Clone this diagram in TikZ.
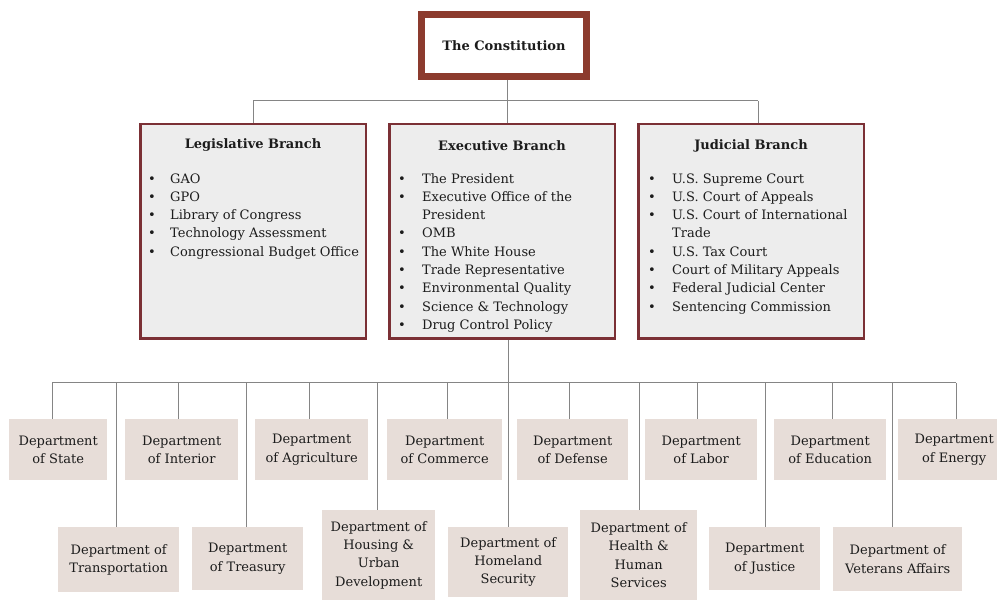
\documentclass[tikz,border=0pt]{standalone}
\usepackage{fontspec}
\setmainfont{DejaVu Serif}
\definecolor{maroonA}{HTML}{8C3B2E}
\definecolor{maroonB}{HTML}{7B3035}
\definecolor{branchfill}{HTML}{EDEDED}
\definecolor{deptfill}{HTML}{E7DDD8}
\definecolor{linec}{HTML}{858585}
\definecolor{txt}{HTML}{1C1C1C}
\tikzset{
  constbox/.style={draw=maroonA, line width=7pt, fill=white, minimum width=165pt, minimum height=62pt, inner sep=0pt, font=\bfseries\fontsize{13}{16}\selectfont},
  branchbox/.style={draw=maroonB, line width=2.5pt, fill=branchfill, inner sep=0pt, anchor=north west, minimum width=225.5pt, minimum height=214.5pt},
  btitle/.style={font=\bfseries\fontsize{13}{16}\selectfont, inner sep=0pt},
  blist/.style={anchor=north west, inner sep=0pt, align=left},
  dept/.style={fill=deptfill, inner sep=0pt, align=center, anchor=north west},
  conn/.style={draw=linec, line width=1pt}
}
\begin{document}
\begin{tikzpicture}[x=1pt, y=-1pt, font=\fontsize{13}{18.3}\selectfont, text=txt]
\useasboundingbox[fill=white] (0,0) rectangle (997,612);

% Constitution
\node[constbox] (con) at (504,45.5) {The Constitution};

% Branches
\node[branchbox] (leg) at (139,123) {};
\node[branchbox] (exe) at (388,123) {};
\node[branchbox] (jud) at (637,123) {};

\node[btitle] (legt) at (253,145) {Legislative Branch};
\node[btitle] (exet) at (502,146) {Executive Branch};
\node[btitle] (judt) at (751,146) {Judicial Branch};

\node[blist] (legl) at (148,170) {\begin{tabular}{@{}p{22pt}@{}l@{}}
•&GAO\\
•&GPO\\
•&Library of Congress\\
•&Technology Assessment\\
•&Congressional Budget Office
\end{tabular}};
\node[blist] (exel) at (398,170) {\begin{tabular}{@{}p{24pt}@{}l@{}}
•&The President\\
•&Executive Office of the\\
&President\\
•&OMB\\
•&The White House\\
•&Trade Representative\\
•&Environmental Quality\\
•&Science \& Technology\\
•&Drug Control Policy
\end{tabular}};
\node[blist] (judl) at (648,170) {\begin{tabular}{@{}p{24pt}@{}l@{}}
•&U.S. Supreme Court\\
•&U.S. Court of Appeals\\
•&U.S. Court of International\\
&Trade\\
•&U.S. Tax Court\\
•&Court of Military Appeals\\
•&Federal Judicial Center\\
•&Sentencing Commission
\end{tabular}};

% Departments, top row
\node[dept, minimum width=98pt, minimum height=61pt] (state) at (9,419) {Department\\of State};
\node[dept, minimum width=113pt, minimum height=61pt] (interior) at (125,419) {Department\\of Interior};
\node[dept, minimum width=113pt, minimum height=61pt] (agri) at (255,419) {Department\\of Agriculture};
\node[dept, minimum width=115pt, minimum height=61pt] (commerce) at (387,419) {Department\\of Commerce};
\node[dept, minimum width=111pt, minimum height=61pt] (defense) at (517,419) {Department\\of Defense};
\node[dept, minimum width=112pt, minimum height=61pt] (labor) at (645,419) {Department\\of Labor};
\node[dept, minimum width=112pt, minimum height=61pt] (education) at (774,419) {Department\\of Education};
\node[dept, minimum width=112pt, minimum height=61pt] (energy) at (898,419) {Department\\of Energy};

% Departments, bottom row
\node[dept, minimum width=121pt, minimum height=65pt] (transport) at (58,527) {Department of\\Transportation};
\node[dept, minimum width=111pt, minimum height=63pt] (treasury) at (192,527) {Department\\of Treasury};
\node[dept, minimum width=113pt, minimum height=90pt] (housing) at (322,510) {Department of\\Housing \&\\Urban\\Development};
\node[dept, minimum width=120pt, minimum height=70pt] (homeland) at (448,527) {Department of\\Homeland\\Security};
\node[dept, minimum width=117pt, minimum height=90pt] (health) at (580,510) {Department of\\Health \&\\Human\\Services};
\node[dept, minimum width=111pt, minimum height=63pt] (justice) at (709,527) {Department\\of Justice};
\node[dept, minimum width=129pt, minimum height=64pt] (veterans) at (833,527) {Department of\\Veterans Affairs};

% Top connectors
\coordinate (tl) at (253,101);
\coordinate (tm) at (507,101);
\coordinate (tr) at (758,101);
\draw[conn] (tm |- con.south) -- (tm);
\draw[conn] (tl) -- (tr);
\draw[conn] (tl) -- (tl |- leg.north);
\draw[conn] (tm) -- (tm |- exe.north);
\draw[conn] (tr) -- (tr |- jud.north);

% Bottom bus
\coordinate (bstate) at (52,383);
\coordinate (btransport) at (116,383);
\coordinate (binterior) at (178,383);
\coordinate (btreasury) at (246,383);
\coordinate (bagri) at (309,383);
\coordinate (bhousing) at (377,383);
\coordinate (bcommerce) at (447,383);
\coordinate (bhomeland) at (508,383);
\coordinate (bdefense) at (569,383);
\coordinate (bhealth) at (639,383);
\coordinate (blabor) at (697,383);
\coordinate (bjustice) at (765,383);
\coordinate (beducation) at (832,383);
\coordinate (bveterans) at (892,383);
\coordinate (benergy) at (956,383);

\draw[conn] (bstate) -- (benergy);
\draw[conn] (bhomeland |- exe.south) -- (bhomeland |- homeland.north);
\foreach \n in {state,transport,interior,treasury,agri,housing,commerce,defense,health,labor,justice,education,veterans,energy}
  \draw[conn] (b\n) -- (b\n |- \n.north);
\end{tikzpicture}
\end{document}
